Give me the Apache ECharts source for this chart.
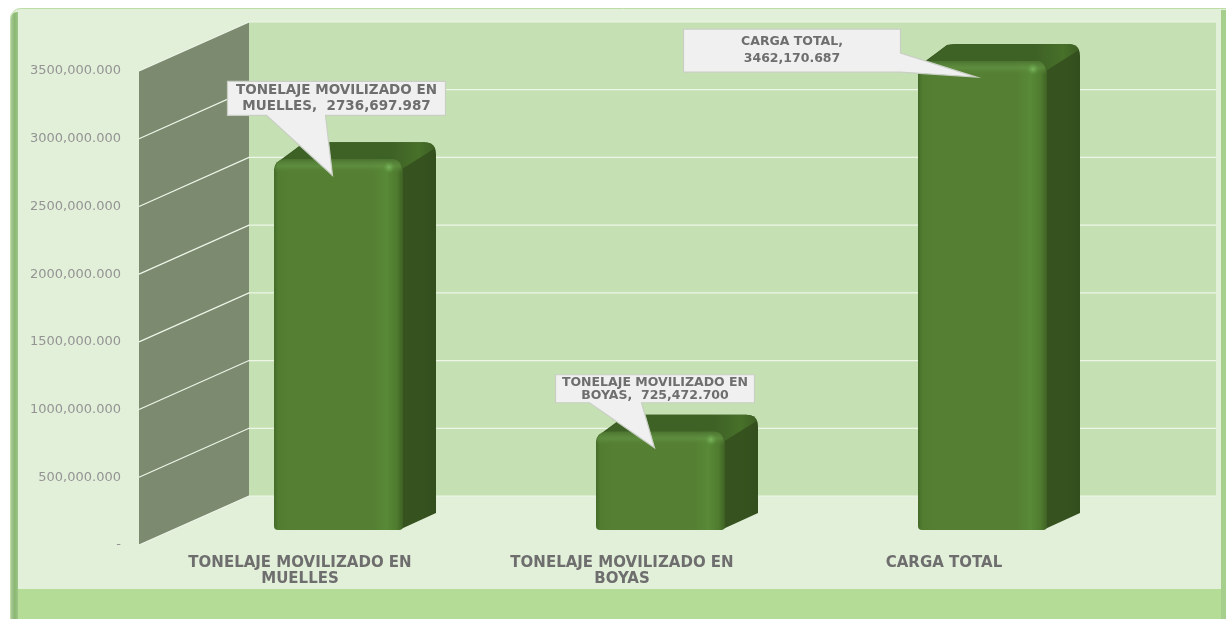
<!DOCTYPE html>
<html><head><meta charset="utf-8">
<style>html,body{margin:0;padding:0;background:#fff}#c{width:1226px;height:619px}</style>
<script src="https://cdn.jsdelivr.net/npm/echarts@6/dist/echarts.min.js"></script>
</head><body><div id="c"></div>
<script>
const categories = ['TONELAJE MOVILIZADO EN\nMUELLES', 'TONELAJE MOVILIZADO EN\nBOYAS', 'CARGA TOTAL'];
const values = [2736697.987, 725472.700, 3462170.687];
const calloutLines = [
  ['TONELAJE MOVILIZADO EN', 'MUELLES,  2736,697.987'],
  ['TONELAJE MOVILIZADO EN', 'BOYAS,  725,472.700'],
  ['CARGA TOTAL,', '3462,170.687']
];
const yTicks = [0, 500000, 1000000, 1500000, 2000000, 2500000, 3000000, 3500000];

// layout only (offsets in px, not data)
const wallDX = 110, wallDY = -49, wallRight = 1216;
const barShiftX = 38.5, barShiftY = -15, barW = 129, depthX = 33, depthY = -17;
const calloutBoxes = [
  {dx: -105, dy: -94, w: 218, h: 34, tail: [39, 98], fs: 13.5, lh: 16},
  {dx: -99,  dy: -73, w: 199, h: 28, tail: [34, 86], fs: 12.5, lh: 13},
  {dx: -293, dy: -48, w: 217, h: 43, side: [24, 43], fs: 12.5, lh: 17}
];

function fmt(v) {
  if (v === 0) return '-';
  const s = v.toFixed(3), p = s.split('.');
  const i = p[0];
  return (i.length > 3 ? i.slice(0, -3) + ',' + i.slice(-3) : i) + '.' + p[1];
}

function renderWalls(params, api) {
  const v = api.value(0);
  const p = api.coord([0, v]);
  const x = 139, y = p[1];
  const children = [];
  if (params.dataIndex === 0) {
    const topF = api.coord([0, yTicks[yTicks.length - 1]])[1];
    children.push({type: 'rect', shape: {x: x + wallDX, y: topF + wallDY, width: wallRight - x - wallDX, height: y - topF},
      style: {fill: '#c5e0b3'}});
    children.push({type: 'polygon', shape: {points: [[x, y], [x + wallDX, y + wallDY], [x + wallDX, topF + wallDY], [x, topF]]},
      style: {fill: '#7c8b70'}});
  }
  children.push({type: 'polyline', shape: {points: [[x, y], [x + wallDX, y + wallDY], [wallRight, y + wallDY]]},
    style: {fill: 'none', stroke: '#eef6e8', lineWidth: 1.2}});
  return {type: 'group', children};
}

function renderBars(params, api) {
  const i = params.dataIndex;
  const top = api.coord([i, api.value(1)]);
  const base = api.coord([i, 0]);
  const x0 = top[0] + barShiftX - barW / 2, x1 = x0 + barW;
  const yT = top[1] + barShiftY, yB = base[1] + barShiftY;
  const r = 10, rb = 12;
  const backTop = yT + depthY, rx = x1 + depthX;
  const silhouette = `M${x0 + 2} ${yT + 4} L${x0 + depthX - 4} ${backTop + 1} Q${x0 + depthX + 2} ${backTop} ${x0 + depthX + 8} ${backTop}`
    + ` L${rx - rb} ${backTop} Q${rx} ${backTop} ${rx} ${backTop + rb} L${rx} ${yB + depthY} L${x1 - 2} ${yB - 1} Q${x1 - 6} ${yB} ${x1 - 8} ${yB} L${x1 - 8} ${yT + 4} Z`;
  const topFace = `M${x0 + 2} ${yT + 6} L${x0 + depthX - 4} ${backTop + 1} Q${x0 + depthX + 2} ${backTop} ${x0 + depthX + 8} ${backTop}`
    + ` L${rx - rb} ${backTop} Q${rx - 3} ${backTop} ${rx - 1} ${backTop + 6} L${x1} ${yT + 9} L${x0 + 8} ${yT + 9} Z`;
  const hGrad = {type: 'linear', x: 0, y: 0, x2: 1, y2: 0, colorStops: [
    {offset: 0, color: '#446a28'}, {offset: 0.035, color: '#527d31'}, {offset: 0.12, color: '#557f33'},
    {offset: 0.76, color: '#557f33'}, {offset: 0.87, color: '#588a37'}, {offset: 0.95, color: '#4f7c2f'}, {offset: 1, color: '#3f6124'}]};
  const sideGrad = {type: 'linear', x: 0, y: 0, x2: 1, y2: 0, colorStops: [
    {offset: 0, color: '#37551f'}, {offset: 0.9, color: '#36531f'}, {offset: 1, color: '#334e1d'}]};
  const topGrad = {type: 'linear', x: 0, y: 0, x2: 1, y2: 0, colorStops: [
    {offset: 0, color: '#3e6126'}, {offset: 0.72, color: '#3e6126'}, {offset: 0.9, color: '#477029'}, {offset: 1, color: '#3d5f24'}]};
  const bevel = {type: 'linear', x: 0, y: 0, x2: 0, y2: 1, colorStops: [
    {offset: 0, color: 'rgba(75,115,48,0.9)'}, {offset: 0.5, color: 'rgba(100,150,70,0.6)'}, {offset: 1, color: 'rgba(85,127,51,0)'}]};
  const dot = {type: 'radial', x: 0.5, y: 0.5, r: 0.5, colorStops: [
    {offset: 0, color: 'rgba(125,185,95,0.9)'}, {offset: 1, color: 'rgba(100,160,70,0)'}]};
  return {type: 'group', children: [
    {type: 'path', shape: {pathData: silhouette}, style: {fill: sideGrad}},
    {type: 'path', shape: {pathData: topFace}, style: {fill: topGrad}},
    {type: 'rect', shape: {x: x0, y: yT, width: barW, height: yB - yT, r: [r, r, 4, 4]}, style: {fill: hGrad}},
    {type: 'rect', shape: {x: x0 + 1, y: yT, width: barW - 2, height: 14, r: [r, r, 0, 0]}, style: {fill: bevel}},
    {type: 'circle', shape: {cx: x1 - 14, cy: yT + 8, r: 6}, style: {fill: dot}}
  ]};
}

function renderCallouts(params, api) {
  const i = params.dataIndex;
  const top = api.coord([i, api.value(1)]);
  const tipX = top[0] + barShiftX - 6, tipY = top[1] + barShiftY + 16;
  const b = calloutBoxes[i];
  const bx = tipX + b.dx, by = tipY + b.dy;
  let pts;
  if (b.side) {
    pts = [[bx, by], [bx + b.w, by], [bx + b.w, by + b.side[0]], [tipX, tipY], [bx + b.w, by + b.side[1]], [bx + b.w, by + b.h], [bx, by + b.h]];
  } else {
    pts = [[bx, by], [bx + b.w, by], [bx + b.w, by + b.h], [bx + b.tail[1], by + b.h], [tipX, tipY], [bx + b.tail[0], by + b.h], [bx, by + b.h]];
  }
  const font = `bold ${b.fs}px "DejaVu Sans"`;
  const lines = calloutLines[i];
  const cy = by + b.h / 2;
  return {type: 'group', children: [
    {type: 'polygon', shape: {points: pts}, style: {fill: '#f0f0f0', stroke: '#c9cfc4', lineWidth: 1.2}},
    {type: 'text', style: {text: lines[0], x: bx + b.w / 2, y: cy - b.lh / 2, align: 'center', verticalAlign: 'middle', font, fill: '#6e6e6e'}},
    {type: 'text', style: {text: lines[1], x: bx + b.w / 2, y: cy + b.lh / 2, align: 'center', verticalAlign: 'middle', font, fill: '#6e6e6e'}}
  ]};
}

const chart = echarts.init(document.getElementById('c'), null, {renderer: 'canvas'});
chart.setOption({
  animation: false,
  backgroundColor: '#ffffff',
  graphic: [
    {type: 'rect', z: -10, shape: {x: 10.5, y: 8.5, width: 1216, height: 611, r: [10, 0, 0, 0]}, style: {fill: '#e2efd9', stroke: '#bcdda6', lineWidth: 1}},
    {type: 'rect', z: -9, shape: {x: 18, y: 589, width: 1204, height: 30}, style: {fill: '#b5dc96'}},
    {type: 'rect', z: -9, shape: {x: 11, y: 12, width: 7, height: 607, r: [6, 0, 0, 0]}, style: {fill: {type: 'linear', x: 0, y: 0, x2: 1, y2: 0, colorStops: [{offset: 0, color: '#a9c99a'}, {offset: 0.5, color: '#8ab872'}, {offset: 1, color: '#9cc585'}]}}},
    {type: 'rect', z: -9, shape: {x: 1221, y: 10, width: 5, height: 609}, style: {fill: '#a6cf8d'}}
  ],
  grid: {left: 139, right: 121, top: 71, bottom: 74},
  xAxis: {type: 'category', data: categories, axisLine: {show: false}, axisTick: {show: false}, splitLine: {show: false},
    axisLabel: {margin: 10, interval: 0, lineHeight: 16, color: '#6e6e6e', fontFamily: 'DejaVu Sans', fontWeight: 'bold', fontSize: 15}},
  yAxis: {type: 'value', min: 0, max: 3500000, interval: 500000, axisLine: {show: false}, axisTick: {show: false}, splitLine: {show: false},
    axisLabel: {margin: 18, color: '#949494', fontFamily: 'DejaVu Sans', fontSize: 13, formatter: fmt}},
  series: [
    {type: 'custom', name: 'paredes', z: 1, data: yTicks.map(v => [v]), renderItem: renderWalls, silent: true, encode: {y: 0}, clip: false},
    {type: 'custom', name: 'Tonelaje', z: 2, data: values.map((v, i) => [i, v]), renderItem: renderBars, encode: {x: 0, y: 1}, clip: false},
    {type: 'custom', name: 'Etiquetas', z: 3, data: values.map((v, i) => [i, v]), renderItem: renderCallouts, encode: {x: 0, y: 1}, clip: false}
  ]
});
</script></body></html>
